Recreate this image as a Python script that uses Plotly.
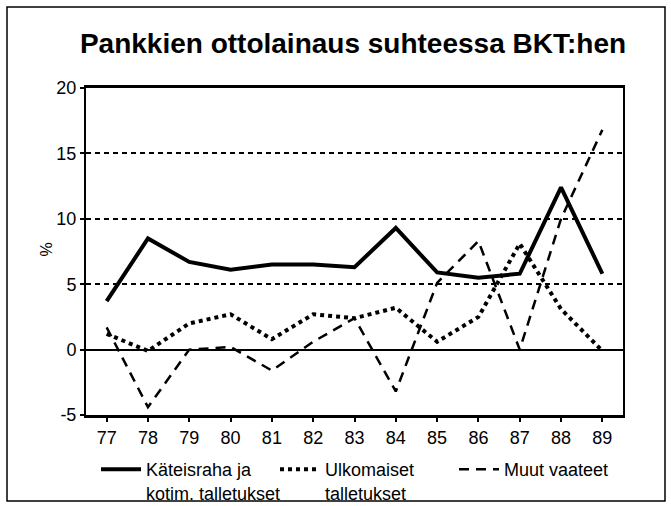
import plotly.graph_objects as go

years = [77, 78, 79, 80, 81, 82, 83, 84, 85, 86, 87, 88, 89]
year_labels = [str(y) for y in years]
y_ticks = [-5, 0, 5, 10, 15, 20]
y_tick_labels = ["-5", "0", "5", "10", "15", "20"]

kateisraha = [3.7, 8.5, 6.7, 6.1, 6.5, 6.5, 6.3, 9.3, 5.9, 5.5, 5.8, 12.4, 5.8]
ulkomaiset = [1.2, -0.1, 2.0, 2.7, 0.8, 2.7, 2.4, 3.2, 0.6, 2.5, 8.1, 3.1, -0.1]
muut = [1.7, -4.4, 0.0, 0.2, -1.6, 0.6, 2.4, -3.2, 5.1, 8.3, 0.0, 10.0, 16.8]

names = ["Käteisraha ja<br>kotim. talletukset", "Ulkomaiset<br>talletukset", "Muut vaateet"]
title = "Pankkien ottolainaus suhteessa BKT:hen"

FONT = "Liberation Sans, Arial, sans-serif"

fig = go.Figure()
fig.add_trace(go.Scatter(x=years, y=kateisraha, name=names[0], mode="lines",
                         line=dict(color="black", width=4)))
fig.add_trace(go.Scatter(x=years, y=ulkomaiset, name=names[1], mode="lines",
                         line=dict(color="black", width=4, dash="dot")))
fig.add_trace(go.Scatter(x=years, y=muut, name=names[2], mode="lines",
                         line=dict(color="black", width=2.5, dash="10px,7px")))

# plot area in px: left 86, right 623, top 88, bottom 415
L, R, T, B = 86, 623, 88, 415
W, H = 671, 506
pw, ph = R - L, B - T

def px_x(p):
    return (p - L) / pw

def px_y(p):
    return (B - p) / ph

fig.update_layout(
    width=W, height=H,
    margin=dict(l=L, r=W - R, t=T, b=H - B),
    paper_bgcolor="white", plot_bgcolor="white",
    font=dict(family=FONT, color="black", size=17),
    title=dict(text="<b>" + title + "</b>", x=px_x(353), xref="paper", xanchor="center",
               y=1 - 43 / H, yanchor="middle", font=dict(size=28)),
    showlegend=True,
    legend=dict(orientation="h", xref="container", yref="container",
                x=96 / W, xanchor="left", y=1 - 451 / H, yanchor="top",
                valign="top", font=dict(size=18), entrywidth=124, entrywidthmode="pixels",
                itemwidth=40, tracegroupgap=0, bgcolor="rgba(0,0,0,0)"),
    shapes=[dict(type="rect", xref="paper", yref="paper",
                 x0=px_x(7), x1=px_x(665), y0=px_y(501), y1=px_y(7),
                 line=dict(color="black", width=1.5))],
    annotations=[dict(text="%", xref="paper", yref="paper", x=px_x(56), y=px_y(250),
                      xanchor="right", showarrow=False, textangle=-90, font=dict(size=16))],
)

fig.update_xaxes(range=[76.5, 89.5], tickmode="array", tickvals=years, ticktext=year_labels,
                 showgrid=False, zeroline=False, showline=True, linecolor="black", linewidth=3,
                 mirror=True, ticks="outside", ticklen=4, tickwidth=1.5, tickcolor="black",
                 tickfont=dict(size=18), automargin=False)
fig.update_yaxes(range=[-5, 20], tickmode="array", tickvals=y_ticks, ticktext=y_tick_labels,
                 showgrid=True, gridcolor="black", gridwidth=2, griddash="5px,4px",
                 zeroline=True, zerolinecolor="black", zerolinewidth=2,
                 showline=True, linecolor="black", linewidth=2, mirror=True,
                 ticks="outside", ticklen=4, tickwidth=1.5, tickcolor="black",
                 tickfont=dict(size=18), automargin=False)

# the page body has a default 8px margin; drop it so the figure sits at the corner
fig.write_html("out.html", config={"displayModeBar": False},
               post_script="document.body.style.margin='0px';")
